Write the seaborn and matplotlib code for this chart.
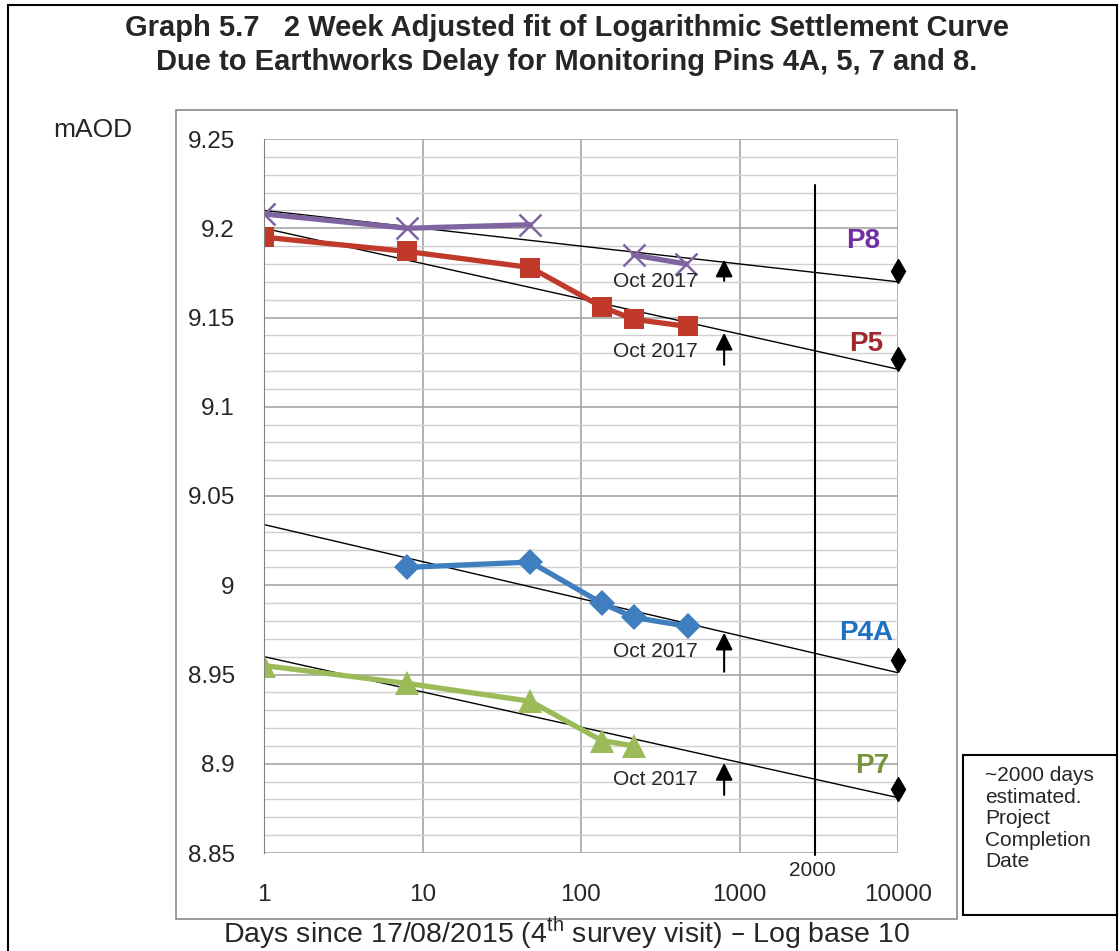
"""Graph 5.7 - logarithmic settlement curves for monitoring pins"""
import numpy as np
import pandas as pd
import seaborn as sns
import matplotlib.pyplot as plt
from matplotlib.patches import Rectangle
from matplotlib.ticker import FixedLocator, FuncFormatter, NullFormatter

# ---- data ----
p8_days = [1, 8, 48, 215, 460]
p8_level = [9.208, 9.200, 9.202, 9.185, 9.180]
p8_segment = [0, 0, 0, 1, 1]

p5_days = [1, 8, 48, 135, 215, 470]
p5_level = [9.195, 9.187, 9.178, 9.156, 9.149, 9.145]

p4a_days = [8, 48, 135, 215, 470]
p4a_level = [9.010, 9.013, 8.990, 8.982, 8.977]

p7_days = [1, 8, 48, 135, 215]
p7_level = [8.955, 8.945, 8.935, 8.913, 8.910]

pins = ['P8', 'P5', 'P4A', 'P7']
fit_days = [1, 10000]
fit_level = {'P8': [9.210, 9.170], 'P5': [9.200, 9.121],
             'P4A': [9.034, 8.951], 'P7': [8.960, 8.881]}
end_level = {'P8': 9.176, 'P5': 9.127, 'P4A': 8.958, 'P7': 8.886}
arrow_day = 800
arrow_span = {'P8': (9.169, 9.184), 'P5': (9.122, 9.143),
              'P4A': (8.950, 8.975), 'P7': (8.881, 8.902)}
oct_label_day = 293
oct_label_level = {'P8': 9.170, 'P5': 9.131, 'P4A': 8.963, 'P7': 8.891}
pin_label_pos = {'P8': (6000, 9.193), 'P5': (6300, 9.135),
                 'P4A': (6300, 8.973), 'P7': (6900, 8.899)}
completion_day = 3000

line_colors = {'P8': '#8064A2', 'P5': '#C0392B', 'P4A': '#3F7FC0', 'P7': '#9BBB59'}
label_colors = {'P8': '#7030A0', 'P5': '#A0282D', 'P4A': '#1F70C1', 'P7': '#77933C'}
markers = {'P8': 'x', 'P5': 's', 'P4A': 'D', 'P7': '^'}

sns.set_style("white")
plt.rcParams['font.family'] = ['Liberation Sans', 'DejaVu Sans']

fig = plt.figure(figsize=(11.2, 9.51), dpi=100)
ax = fig.add_axes([264 / 1120, 1 - 853 / 951, (898 - 264) / 1120, (853 - 139) / 951])

# frames
fig.patches.append(Rectangle((8 / 1120, -0.01), 1109 / 1120, 1 - 5 / 951 + 0.01,
                             transform=fig.transFigure, fill=False, ec='black', lw=1.5))
fig.patches.append(Rectangle((176 / 1120, 1 - 919 / 951), (957 - 176) / 1120, (919 - 110) / 951,
                             transform=fig.transFigure, fill=False, ec='#8a8a8a', lw=1.2))
fig.patches.append(Rectangle((963 / 1120, 1 - 915 / 951), (1117 - 963) / 1120, (915 - 755) / 951,
                             transform=fig.transFigure, fill=False, ec='black', lw=1.5))

ax.set_xscale('log')
ax.set_xlim(1, 10000)
ax.set_ylim(8.85, 9.25)

# grid
ax.yaxis.set_major_locator(FixedLocator(np.round(np.arange(8.85, 9.2501, 0.05), 2)))
ax.yaxis.set_minor_locator(FixedLocator(np.round(np.arange(8.85, 9.2501, 0.01), 2)))
ax.xaxis.set_major_locator(FixedLocator([1, 10, 100, 1000, 10000]))
ax.xaxis.set_minor_locator(FixedLocator([]))
ax.xaxis.set_minor_formatter(NullFormatter())
ax.grid(which='major', axis='both', color='#a6a6a6', lw=1.2)
ax.grid(which='minor', axis='y', color='#cfcfcf', lw=1.0)
ax.set_axisbelow(True)
ax.yaxis.set_major_formatter(FuncFormatter(lambda v, p: '%g' % round(v, 2)))
ax.xaxis.set_major_formatter(FuncFormatter(lambda v, p: '%d' % v))
ax.tick_params(axis='y', which='major', length=7, color='#808080', labelsize=17.5, pad=14)
ax.tick_params(axis='y', which='minor', length=0)
ax.tick_params(axis='x', length=10, color='#a6a6a6', labelsize=17.5, pad=12)
for s in ['top', 'right', 'bottom']:
    ax.spines[s].set_visible(False)
ax.spines['left'].set_color('#808080')

# fit lines
for pin in pins:
    sns.lineplot(x=fit_days, y=fit_level[pin], ax=ax, color='black', lw=1.0,
                 estimator=None, sort=False, legend=False)

# measured series
series = {
    'P8': pd.DataFrame({'day': p8_days, 'level': p8_level, 'seg': p8_segment}),
    'P5': pd.DataFrame({'day': p5_days, 'level': p5_level, 'seg': 0}),
    'P4A': pd.DataFrame({'day': p4a_days, 'level': p4a_level, 'seg': 0}),
    'P7': pd.DataFrame({'day': p7_days, 'level': p7_level, 'seg': 0}),
}
for pin, df in series.items():
    for _, part in df.groupby('seg'):
        if pin == 'P8':
            kw = dict(markersize=16, markeredgewidth=1.8)
        elif pin == 'P4A':
            kw = dict(markersize=13, markeredgewidth=0)
        elif pin == 'P7':
            kw = dict(markersize=17, markeredgewidth=0)
        else:
            kw = dict(markersize=15, markeredgewidth=0)
        sns.lineplot(data=part, x='day', y='level', ax=ax, color=line_colors[pin], lw=3.8,
                     marker=markers[pin], markeredgecolor=line_colors[pin], estimator=None,
                     sort=False, legend=False, **kw)

# end markers at 10000 days, arrows and labels
for pin in pins:
    ax.plot([10000], [end_level[pin]], marker='d', color='black', markersize=12,
            clip_on=False, zorder=5)
    lo, hi = arrow_span[pin]
    ax.annotate('', xy=(arrow_day, hi), xytext=(arrow_day, lo),
                arrowprops=dict(arrowstyle='-|>', color='black', lw=1.5, mutation_scale=26))
    ax.text(oct_label_day, oct_label_level[pin], 'Oct 2017', ha='center', va='center', fontsize=15)
    px, py = pin_label_pos[pin]
    ax.text(px, py, pin, ha='center', va='center', fontsize=20, fontweight='bold',
            color=label_colors[pin])
ax.set_xlabel('')
ax.set_ylabel('')

# estimated completion line
ax.axvline(completion_day, ymin=-0.003, ymax=(9.224 - 8.85) / 0.4, color='black', lw=1.5,
           clip_on=False)

fig.text(812 / 1120, 1 - 871 / 951, '2000', ha='center', va='center', fontsize=15)
fig.text(93 / 1120, 1 - 130 / 951, 'mAOD', ha='center', va='center', fontsize=19)
fig.text(567 / 1120, 1 - 28 / 951, 'Graph 5.7   2 Week Adjusted fit of Logarithmic Settlement Curve',
         ha='center', va='center', fontsize=21, fontweight='bold')
fig.text(567 / 1120, 1 - 62 / 951, 'Due to Earthworks Delay for Monitoring Pins 4A, 5, 7 and 8.',
         ha='center', va='center', fontsize=21, fontweight='bold')
fig.text(567 / 1120, 1 - 933 / 951,
         r'Days since 17/08/2015 (4$^{\mathregular{th}}$ survey visit) – Log base 10',
         ha='center', va='center', fontsize=20.5)
fig.text(985 / 1120, 1 - 766 / 951, '~2000 days\nestimated.\nProject\nCompletion\nDate',
         ha='left', va='top', fontsize=15, linespacing=1.17)

plt.savefig('out.png', dpi=100)
plt.close()
